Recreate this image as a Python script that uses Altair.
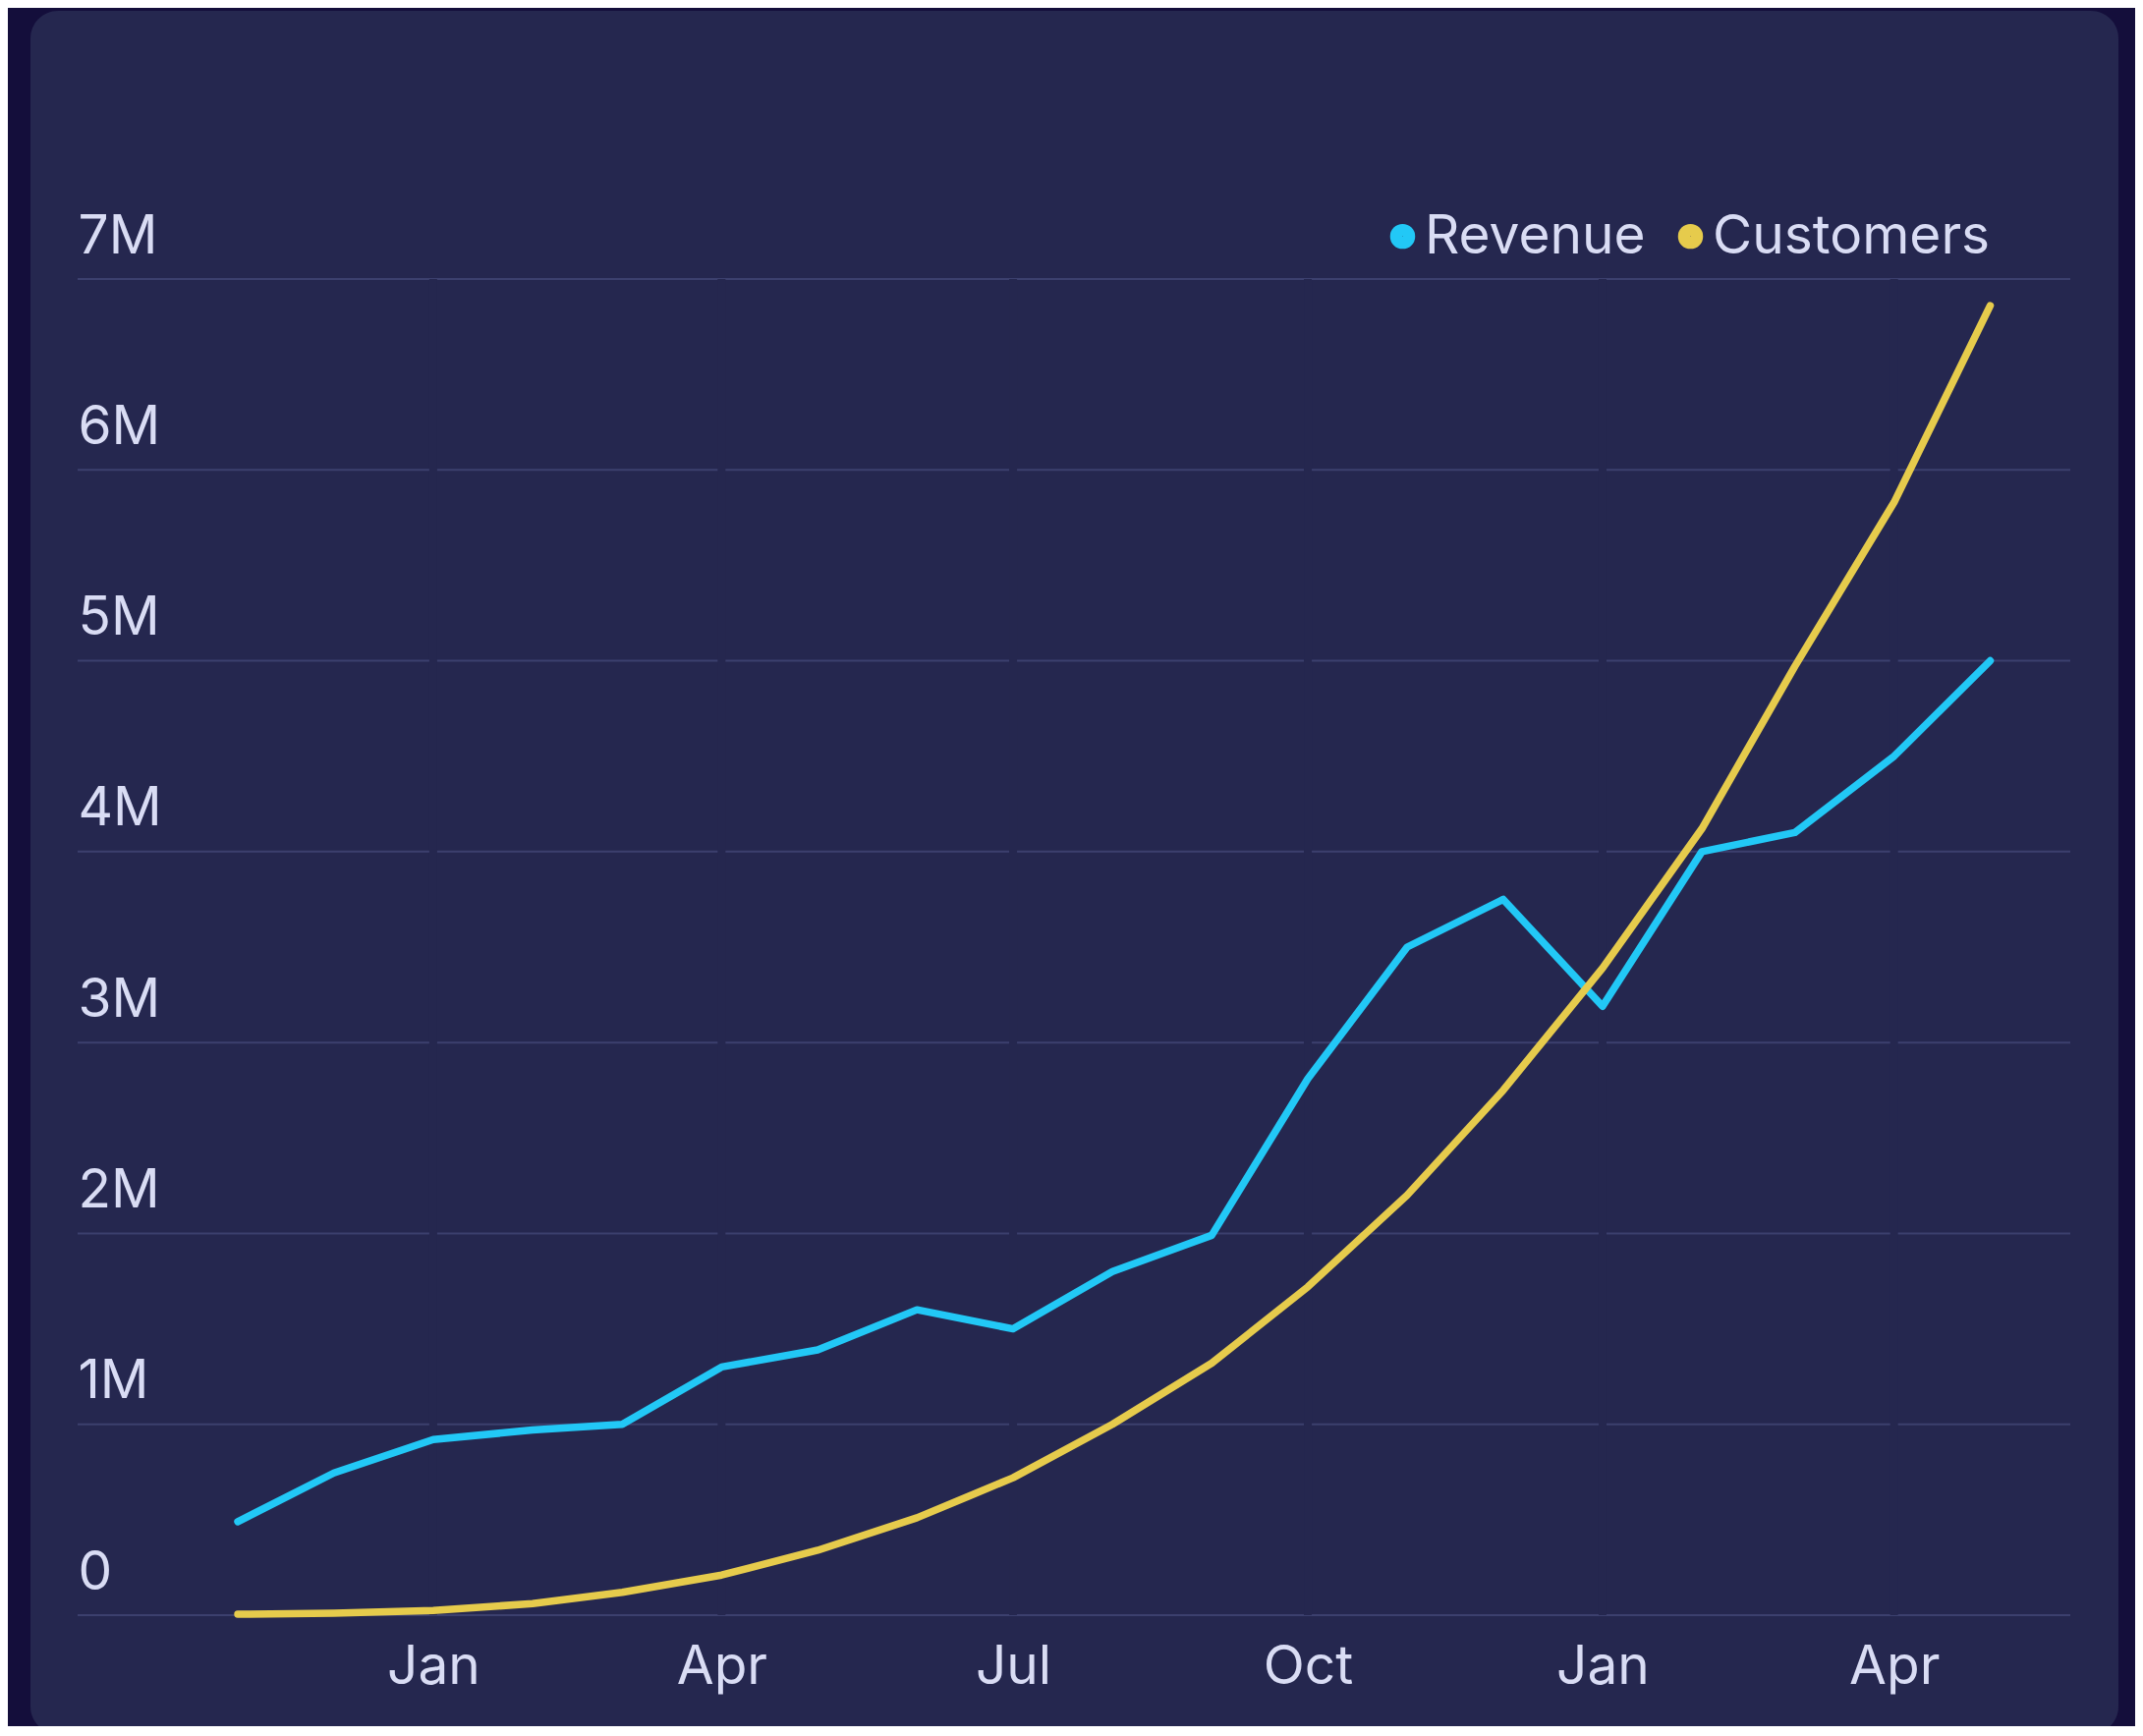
import altair as alt
import pandas as pd

# ---- data ----
months = [
    "2022-11-01T00:00:00", "2022-12-01T00:00:00", "2023-01-01T00:00:00",
    "2023-02-01T00:00:00", "2023-03-01T00:00:00", "2023-04-01T00:00:00",
    "2023-05-01T00:00:00", "2023-06-01T00:00:00", "2023-07-01T00:00:00",
    "2023-08-01T00:00:00", "2023-09-01T00:00:00", "2023-10-01T00:00:00",
    "2023-11-01T00:00:00", "2023-12-01T00:00:00", "2024-01-01T00:00:00",
    "2024-02-01T00:00:00", "2024-03-01T00:00:00", "2024-04-01T00:00:00",
    "2024-05-01T00:00:00",
]
revenue = [490000, 745000, 920000, 970000, 1000000, 1300000, 1390000, 1600000,
           1500000, 1800000, 1990000, 2810000, 3500000, 3750000, 3190000,
           4000000, 4100000, 4500000, 5000000]
customers = [5000, 10000, 25000, 60000, 120000, 210000, 340000, 510000, 720000,
             1000000, 1320000, 1720000, 2200000, 2750000, 3390000, 4120000,
             4970000, 5830000, 6860000]
series_names = ["Revenue", "Customers"]
y_ticks = [0, 1000000, 2000000, 3000000, 4000000, 5000000, 6000000, 7000000]
x_ticks = ["2023-01-01T00:00:00", "2023-04-01T00:00:00", "2023-07-01T00:00:00",
           "2023-10-01T00:00:00", "2024-01-01T00:00:00", "2024-04-01T00:00:00"]

# ---- styles ----
OUTER = "#140e3b"
CARD = "#25274f"
GRID = "#3c406e"
TEXT = "#d9dcf4"
REV = "#22c8f6"
CUS = "#e6cb4c"
FONT = "Inter"
FS = 55

W, H = 2028, 1360

df = pd.DataFrame({"date": months, "Revenue": revenue, "Customers": customers})
long = df.melt(id_vars="date", value_vars=series_names, var_name="series", value_name="value")
ydf = pd.DataFrame({"value": y_ticks})
xdf = pd.DataFrame({"date": x_ticks})

x_enc = alt.X(
    "date:T",
    scale=alt.Scale(domain=[alt.DateTime(year=2022, month=9, date=12),
                            alt.DateTime(year=2024, month=5, date=26)]),
    axis=alt.Axis(
        values=[alt.DateTime(year=2023, month=1, date=1), alt.DateTime(year=2023, month=4, date=1),
                alt.DateTime(year=2023, month=7, date=1), alt.DateTime(year=2023, month=10, date=1),
                alt.DateTime(year=2024, month=1, date=1), alt.DateTime(year=2024, month=4, date=1)],
        format="%b", title=None, grid=False, domain=False, ticks=False, tickSize=0,
        labelPadding=69, labelBaseline="alphabetic", labelFont=FONT, labelFontSize=FS,
        labelColor=TEXT, labelOverlap=False, zindex=2,
    ),
)
y_enc = alt.Y(
    "value:Q",
    scale=alt.Scale(domain=[0, 7000000], nice=False, zero=True),
    axis=alt.Axis(
        values=y_ticks, title=None, grid=False, domain=False, ticks=False, tickSize=0,
        labelExpr="datum.value == 0 ? '0' : (datum.value / 1000000) + 'M'",
        labelAlign="left", labelBaseline="alphabetic", labelPadding=0, labelOffset=-27,
        labelFont=FONT, labelFontSize=FS, labelColor=TEXT, labelOverlap=False, zindex=2,
    ),
)

color_enc = alt.Color(
    "series:N",
    scale=alt.Scale(domain=series_names, range=[REV, CUS]),
    legend=alt.Legend(
        orient="none", legendX=1321, legendY=-71, direction="horizontal", title=None,
        symbolType="circle", symbolSize=156, symbolStrokeWidth=13,
        labelFont=FONT, labelFontSize=FS, labelColor=TEXT, labelOffset={"expr": "-5"},
        labelLimit=0, columnPadding=13, padding=0, zindex=2,
    ),
)

card = alt.Chart(pd.DataFrame({"a": [0]})).mark_rect(
    color=CARD, cornerRadius=28
).encode(x=alt.value(-48), x2=alt.value(2077), y=alt.value(-273), y2=alt.value(1481))

grid = alt.Chart(ydf).mark_rule(color=GRID, strokeWidth=2).encode(y=y_enc)
gaps = alt.Chart(xdf).mark_rule(color=CARD, strokeWidth=8).encode(x=x_enc)

rev_line = alt.Chart(long).transform_filter(alt.datum.series == "Revenue").mark_line(
    strokeWidth=7.5, strokeCap="round", strokeJoin="round"
).encode(x=x_enc, y=y_enc, color=color_enc)

cus_line = alt.Chart(long).transform_filter(alt.datum.series == "Customers").mark_line(
    strokeWidth=7.5, strokeCap="round", strokeJoin="round"
).encode(x=x_enc, y=y_enc, color=color_enc)

chart = alt.layer(card, grid, gaps, rev_line, cus_line).properties(
    width=W, height=H,
    autosize=alt.AutoSizeParams(type="none"),
    padding={"left": 71, "top": 276, "right": 66, "bottom": 113},
    background=OUTER,
).configure_view(stroke=None)

chart.save("out.html", embed_options={"renderer": "svg", "actions": False})
